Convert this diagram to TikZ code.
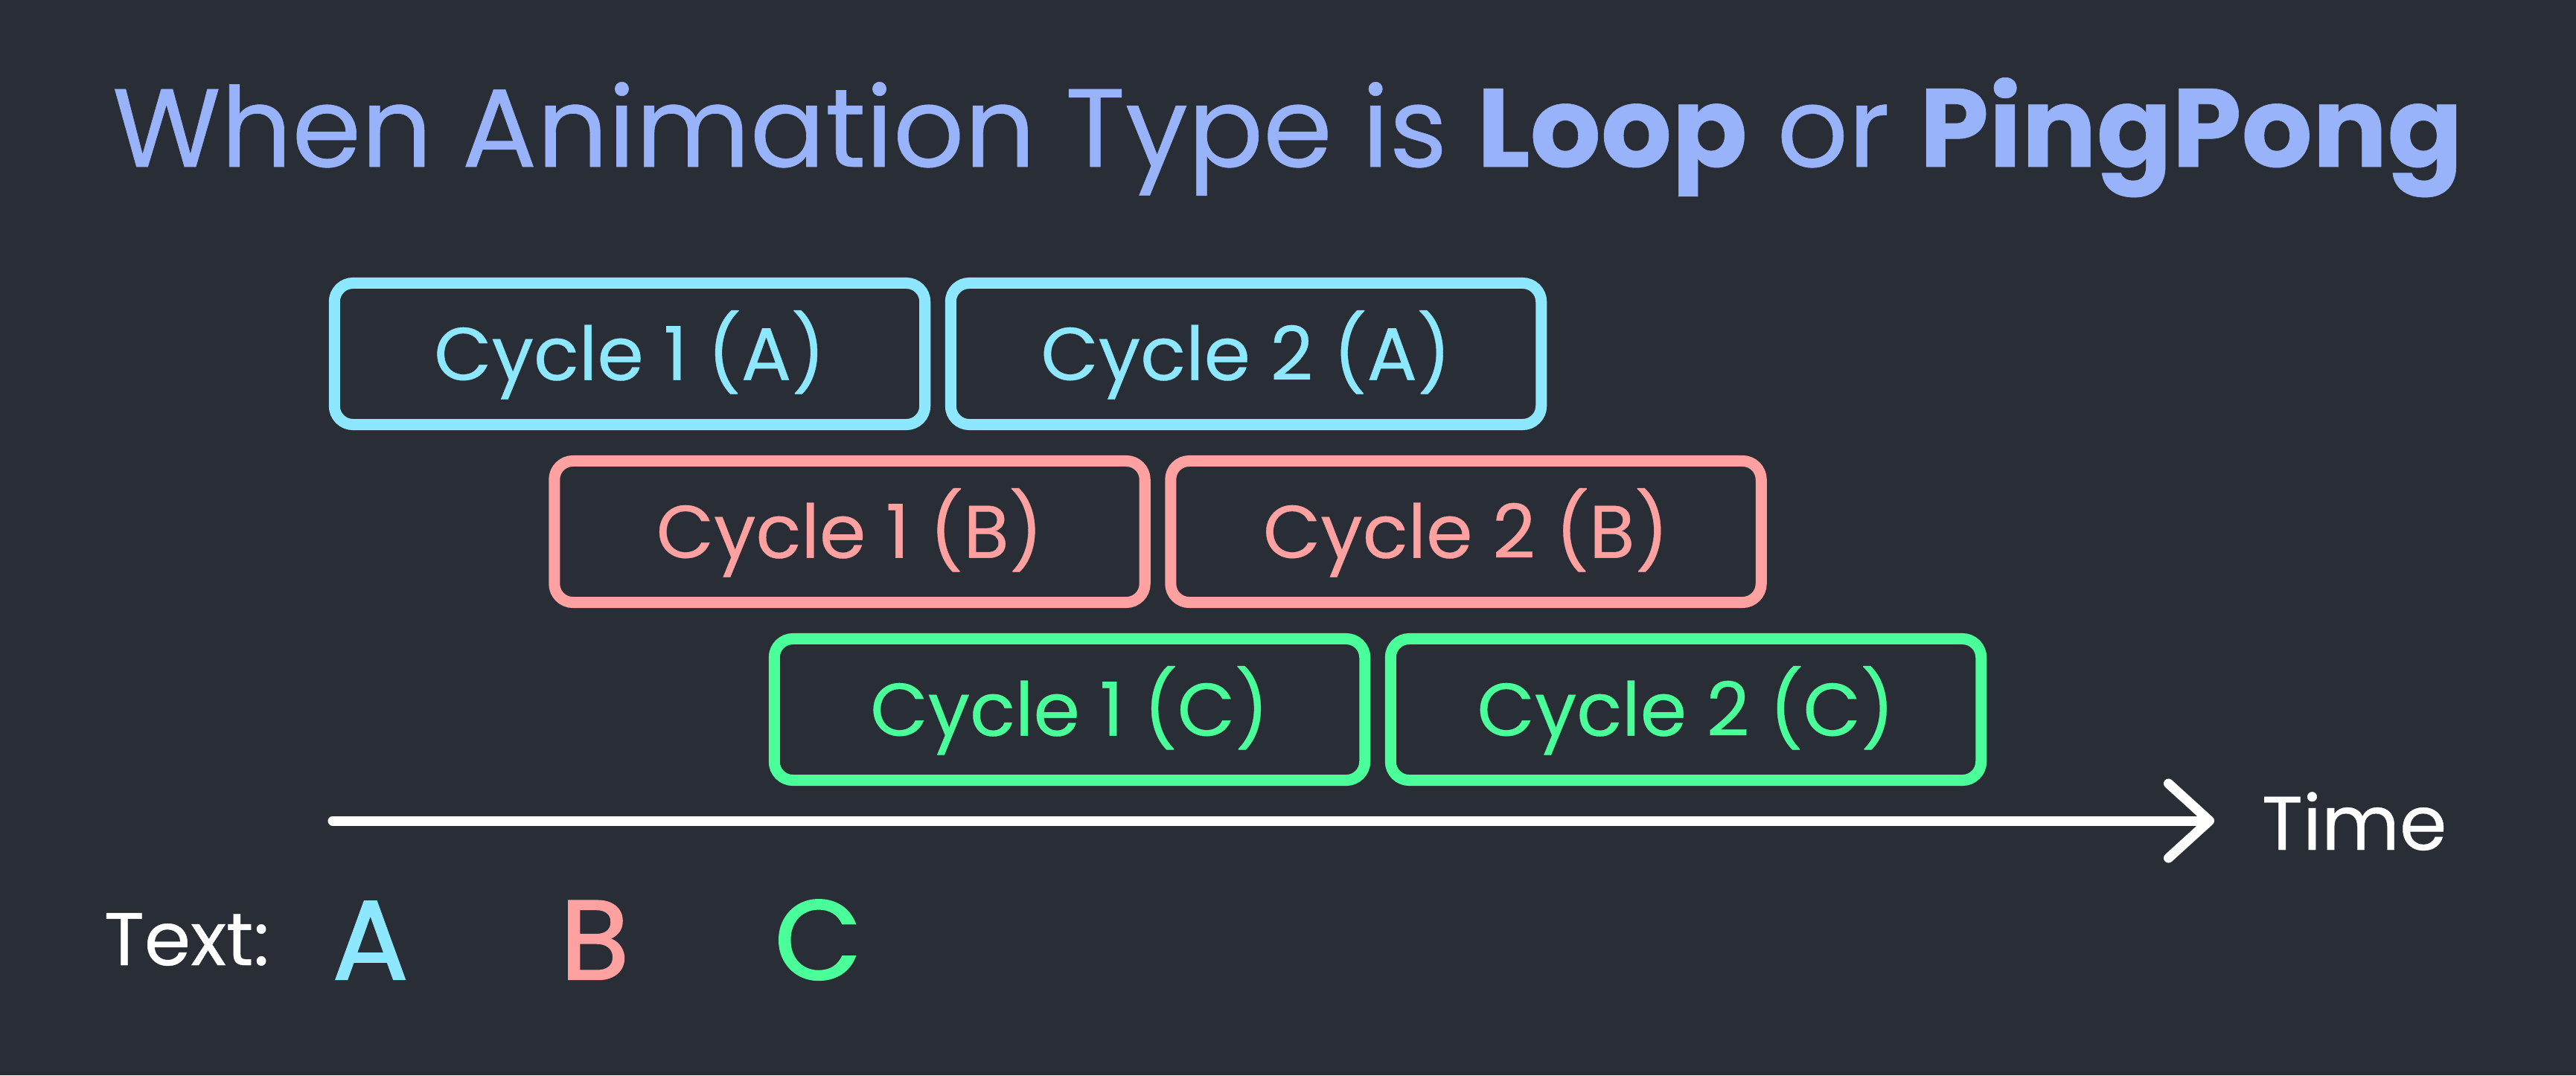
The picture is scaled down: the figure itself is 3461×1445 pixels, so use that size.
\documentclass[tikz,border=0pt]{standalone}
\usepackage{fontspec}
\setmainfont{Poppins}[FakeBold=0.4]
\newfontfamily\legendfont{Poppins}[FakeBold=1.6]
\usetikzlibrary{arrows.meta}
\definecolor{bg}{HTML}{292D35}
\definecolor{ca}{HTML}{8DE7FF}
\definecolor{cb}{HTML}{FFA1A1}
\definecolor{cc}{HTML}{4AFE9A}
\definecolor{ttl}{HTML}{98B3F9}
\begin{document}
\begin{tikzpicture}[x=0.01cm,y=-0.01cm,
  cyc/.style={draw=#1, text=#1, line width=0.15cm, rounded corners=0.25cm,
    minimum width=7.93cm, minimum height=1.9cm, inner sep=0pt,
    font=\fontsize{28.5}{30}\selectfont, text height=20pt, text depth=0pt},
  plain/.style={anchor=base west, inner sep=0pt, text=white},
  big/.style={anchor=base west, inner sep=0pt, text=#1, font=\legendfont\fontsize{43}{44}\selectfont}]
\fill[bg] (0,0) rectangle (3461,1445);
\useasboundingbox (0,0) rectangle (3461,1445);
% title
\node[anchor=base, inner sep=0pt, text=ttl, font=\fontsize{42.5}{44}\selectfont] (title) at (1730,224)
  {When Animation Type is \textbf{Loop} or \textbf{PingPong}};
% boxes
\node[cyc=ca] (a1) at (846,475.5) {Cycle 1 (A)};
\node[cyc=ca] (a2) at (1674,475.5) {Cycle 2 (A)};
\node[cyc=cb] (b1) at (1141.5,714.5) {Cycle 1 (B)};
\node[cyc=cb] (b2) at (1969.5,714.5) {Cycle 2 (B)};
\node[cyc=cc] (c1) at (1437,953.5) {Cycle 1 (C)};
\node[cyc=cc] (c2) at (2265,953.5) {Cycle 2 (C)};
% time axis
\coordinate (ts) at (447,1103);
\coordinate (te) at (2975,1103);
\draw[white, line width=0.13cm, line cap=round,
  -{Straight Barb[length=0.55cm, width=1.0cm, round]}] (ts) -- (te);
\node[plain, font=\fontsize{29}{30}\selectfont] (time) at (3038,1142) {Time};
% legend
\node[plain, font=\fontsize{28.5}{30}\selectfont] (lbl) at (139,1297) {Text:};
\node[big=ca] (la) at (446,1316) {A};
\node[big=cb] (lb) at (752,1316) {B};
\node[big=cc] (lc) at (1040,1316) {C};
\end{tikzpicture}
\end{document}
